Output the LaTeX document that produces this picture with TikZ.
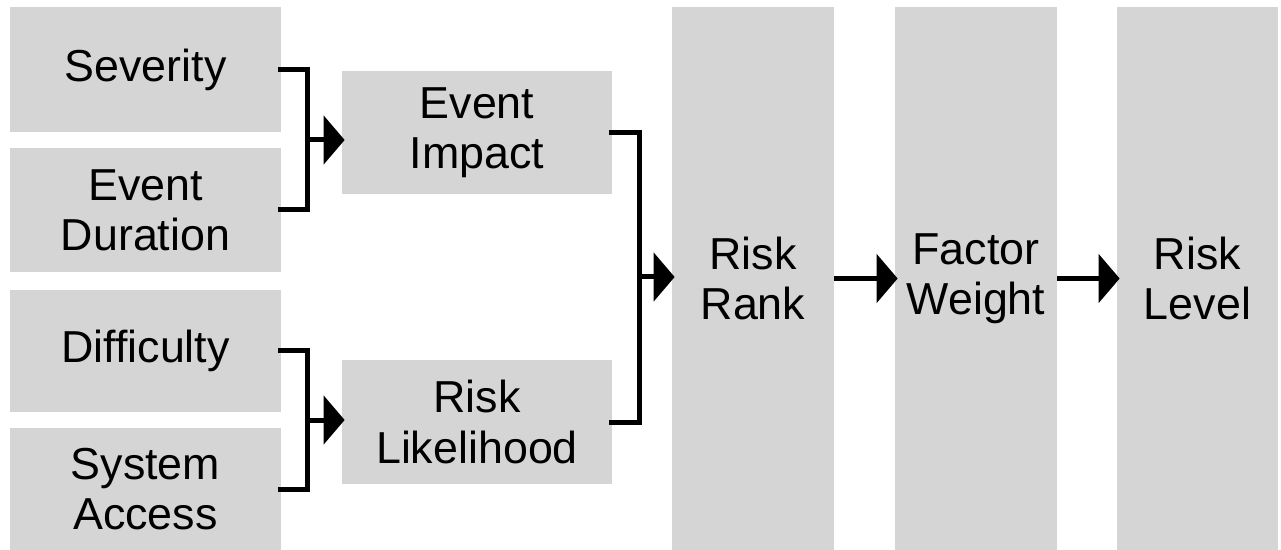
\documentclass[tikz,border=0pt]{standalone}
\usepackage{fontspec}
\setmainfont{Liberation Sans}
\usetikzlibrary{arrows.meta}
\definecolor{boxgray}{HTML}{D5D5D5}
\begin{document}
\begin{tikzpicture}[x=0.02cm,y=-0.02cm,
  box/.style={fill=boxgray, draw=none, inner sep=0pt, align=center,
    font=\fontsize{25.5pt}{28.6pt}\selectfont},
  conn/.style={line width=0.1cm, line join=miter, black},
  arr/.style={conn, -{Triangle[length=0.42cm,width=0.96cm]}}]
\useasboundingbox (0,0) rectangle (1281,550);
\node[box, minimum width=271*0.02cm, minimum height=125*0.02cm] (sev) at (145.5,69.5) {Severity};
\node[box, minimum width=271*0.02cm, minimum height=124*0.02cm] (dur) at (145.5,210) {Event\\Duration};
\node[box, minimum width=271*0.02cm, minimum height=122*0.02cm] (dif) at (145.5,351) {Difficulty};
\node[box, minimum width=271*0.02cm, minimum height=122*0.02cm] (acc) at (145.5,489) {System\\Access};
\node[box, minimum width=270*0.02cm, minimum height=123*0.02cm] (imp) at (477,132.5) {Event\\Impact};
\node[box, minimum width=270*0.02cm, minimum height=124*0.02cm] (lik) at (477,422) {Risk\\Likelihood};
\node[box, minimum width=162*0.02cm, minimum height=543*0.02cm] (rank) at (753,278.5) {Risk\\Rank};
\node[box, minimum width=162*0.02cm, minimum height=543*0.02cm] (fac) at (976,278.5) {Factor\\Weight};
\node[box, minimum width=161*0.02cm, minimum height=543*0.02cm] (lev) at (1197.5,278.5) {Risk\\Level};
\coordinate (b1) at (307,140);
\coordinate (b2) at (307,420);
\coordinate (b3) at (639,277);
\draw[conn] ([xshift=-0.06cm]sev.east) -| (b1) |- ([xshift=-0.06cm]dur.east);
\draw[arr] (b1) -- ([xshift=0.06cm]b1 -| imp.west);
\draw[conn] ([xshift=-0.06cm]dif.east) -| (b2) |- ([xshift=-0.06cm]acc.east);
\draw[arr] (b2) -- ([xshift=0.06cm]b2 -| lik.west);
\draw[conn] ([xshift=-0.06cm]imp.east) -| (b3) |- ([xshift=-0.06cm]lik.east);
\draw[arr] (b3) -- ([xshift=0.06cm]b3 -| rank.west);
\draw[arr] (rank) -- ([xshift=0.06cm]fac.west);
\draw[arr] (fac) -- ([xshift=0.06cm]lev.west);
\end{tikzpicture}
\end{document}
